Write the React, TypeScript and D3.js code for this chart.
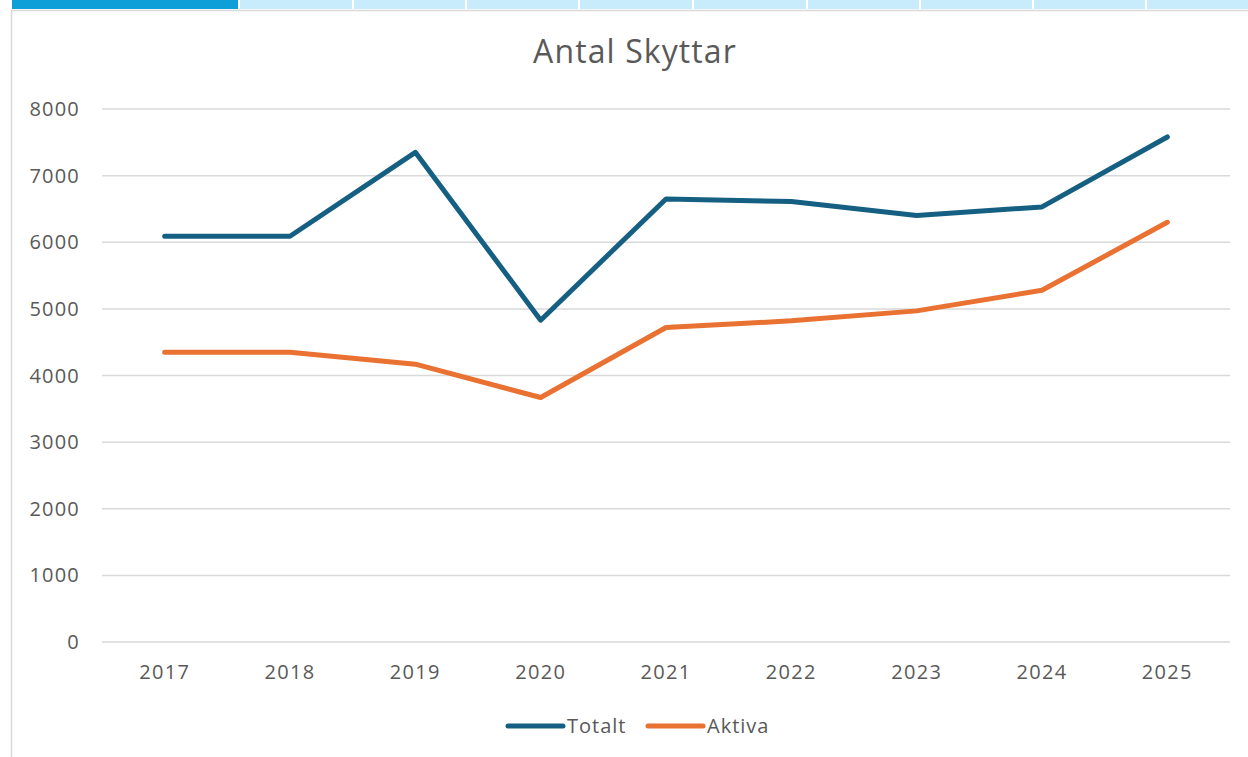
import React from "react";
import * as d3 from "d3";

const years = ["2017", "2018", "2019", "2020", "2021", "2022", "2023", "2024", "2025"];
const totalt = [6090, 6090, 7350, 4830, 6650, 6610, 6400, 6530, 7580];
const aktiva = [4350, 4350, 4170, 3670, 4720, 4820, 4970, 5280, 6300];
const yTicks = [0, 1000, 2000, 3000, 4000, 5000, 6000, 7000, 8000];
const seriesNames = ["Totalt", "Aktiva"];
const seriesColors = ["#156082", "#E97132"];
const title = "Antal Skyttar";
const tabEdges = [12, 240, 354, 467, 580, 694, 808, 921, 1034, 1147, 1260];

const W = 1248;
const H = 757;
const FONT = "'Open Sans', sans-serif";
const TEXT = "#595959";

export default function App() {
  const x = d3.scaleBand<string>().domain(years).range([102, 1230]);
  const y = d3.scaleLinear().domain([0, 8000]).range([642, 109]);
  const line = d3
    .line<number>()
    .x((_, i) => (x(years[i]) as number) + x.bandwidth() / 2)
    .y((d) => y(d));
  const series = [totalt, aktiva];

  return (
    <svg
      width={W}
      height={H}
      style={{ position: "absolute", left: 0, top: 0, background: "#fff" }}
      fontFamily={FONT}
    >
      {tabEdges.slice(0, -1).map((e, i) => (
        <rect
          key={i}
          x={e}
          y={0}
          width={tabEdges[i + 1] - e - 2}
          height={9}
          fill={i === 0 ? "#0E9FD8" : "#C8ECFB"}
        />
      ))}
      <rect x={11.5} y={10.5} width={1250} height={760} fill="#fff" stroke="#D9D9D9" strokeWidth={1.5} />

      <text x={635} y={63} textAnchor="middle" fontSize={32} letterSpacing={1.1} fill={TEXT}>
        {title}
      </text>

      {yTicks.map((t) => (
        <g key={t}>
          <line x1={102} x2={1230} y1={y(t)} y2={y(t)} stroke="#D9D9D9" strokeWidth={1.5} />
          <text x={80} y={y(t)} dy="0.35em" textAnchor="end" fontSize={20} letterSpacing={1.2} fill={TEXT}>
            {t}
          </text>
        </g>
      ))}

      {years.map((yr) => (
        <text
          key={yr}
          x={(x(yr) as number) + x.bandwidth() / 2}
          y={679}
          textAnchor="middle"
          fontSize={20}
          letterSpacing={1.3}
          fill={TEXT}
        >
          {yr}
        </text>
      ))}

      {series.map((s, i) => (
        <path
          key={i}
          d={line(s) || ""}
          fill="none"
          stroke={seriesColors[i]}
          strokeWidth={5}
          strokeLinecap="round"
          strokeLinejoin="round"
        />
      ))}

      {seriesNames.map((n, i) => {
        const lx = i === 0 ? 508 : 648;
        return (
          <g key={n}>
            <line x1={lx} x2={lx + 55} y1={726} y2={726} stroke={seriesColors[i]} strokeWidth={5} strokeLinecap="round" />
            <text x={lx + 59} y={726} dy="0.35em" fontSize={20} letterSpacing={1} fill={TEXT}>
              {n}
            </text>
          </g>
        );
      })}
    </svg>
  );
}
